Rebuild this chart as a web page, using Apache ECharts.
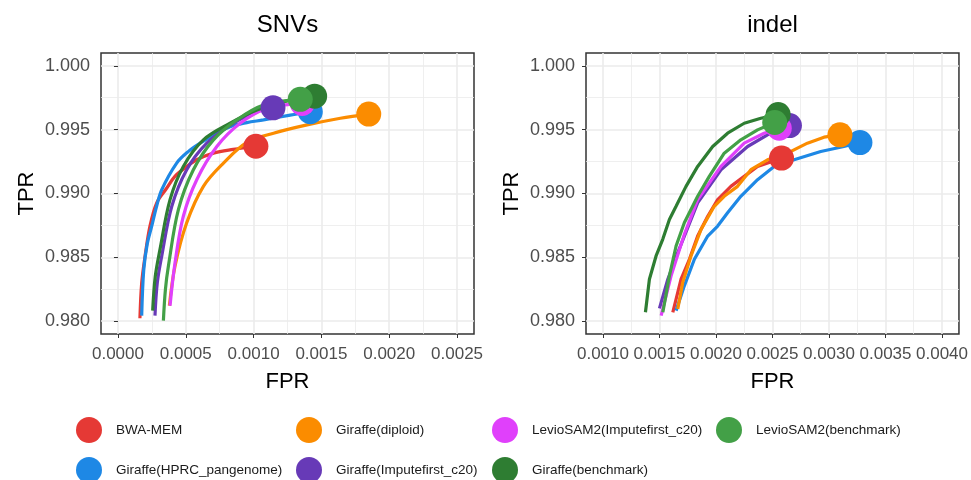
<!DOCTYPE html>
<html>
<head>
<meta charset="utf-8">
<script src="https://cdn.jsdelivr.net/npm/echarts@6/dist/echarts.min.js"></script>
<style>
html,body{margin:0;padding:0;background:#fff;}
#chart{width:971px;height:480px;}
</style>
</head>
<body>
<div id="chart"></div>
<script>
// ---- data ----
const methods = ['BWA-MEM','Giraffe(HPRC_pangenome)','Giraffe(diploid)','Giraffe(Imputefirst_c20)','LevioSAM2(Imputefirst_c20)','Giraffe(benchmark)','LevioSAM2(benchmark)'];
const colors = ['#E53935','#1E88E5','#FB8C00','#673AB7','#E040FB','#2E7D32','#43A047'];
const panelTitles = ['SNVs','indel'];

// SNVs: [FPR, TPR]
const snvBWA = [[0.000162,0.98023],[0.000175,0.98300],[0.000200,0.98511],[0.000236,0.98745],[0.000286,0.98927],[0.000355,0.99035],[0.000420,0.99134],[0.000500,0.99205],[0.000581,0.99264],[0.000704,0.99316],[0.000850,0.99345],[0.001017,0.99370]];
const snvHPRC = [[0.000175,0.98044],[0.000190,0.98400],[0.000215,0.98600],[0.000249,0.98745],[0.000285,0.98900],[0.000323,0.99030],[0.000433,0.99238],[0.000520,0.99330],[0.000606,0.99394],[0.000720,0.99465],[0.000827,0.99523],[0.000950,0.99555],[0.001073,0.99576],[0.001270,0.99614],[0.001418,0.99640]];
const snvDiploid = [[0.000379,0.98121],[0.000421,0.98433],[0.000507,0.98771],[0.000630,0.99056],[0.000778,0.99238],[0.000951,0.99400],[0.001147,0.99472],[0.001394,0.99537],[0.001640,0.99589],[0.001849,0.99622]];
const snvImpute = [[0.000273,0.98044],[0.000290,0.98300],[0.000323,0.98511],[0.000397,0.98900],[0.000507,0.99186],[0.000655,0.99394],[0.000852,0.99550],[0.001024,0.99640],[0.001143,0.99671]];
const snvLevioImpute = [[0.000384,0.98121],[0.000421,0.98459],[0.000482,0.98822],[0.000581,0.99108],[0.000729,0.99368],[0.000901,0.99550],[0.001098,0.99667],[0.001270,0.99698],[0.001359,0.99705]];
const snvBench = [[0.000256,0.98083],[0.000275,0.98350],[0.000310,0.98563],[0.000384,0.98952],[0.000482,0.99212],[0.000630,0.99420],[0.000827,0.99550],[0.001024,0.99653],[0.001270,0.99731],[0.001450,0.99762]];
const snvLevioBench = [[0.000335,0.98005],[0.000350,0.98250],[0.000372,0.98433],[0.000446,0.98875],[0.000556,0.99186],[0.000704,0.99420],[0.000877,0.99576],[0.001073,0.99692],[0.001344,0.99737]];

// indel: [FPR, TPR]
const indBWA = [[0.001618,0.98070],[0.001691,0.98329],[0.001765,0.98485],[0.001838,0.98667],[0.001927,0.98822],[0.002015,0.98952],[0.002132,0.99056],[0.002250,0.99134],[0.002368,0.99212],[0.002580,0.99277]];
const indHPRC = [[0.001647,0.98083],[0.001720,0.98277],[0.001809,0.98485],[0.001927,0.98667],[0.002015,0.98745],[0.002103,0.98849],[0.002220,0.98978],[0.002368,0.99108],[0.002515,0.99212],[0.002691,0.99264],[0.002927,0.99329],[0.003132,0.99368],[0.003274,0.99399]];
const indDiploid = [[0.001662,0.98096],[0.001706,0.98304],[0.001779,0.98511],[0.001868,0.98719],[0.001985,0.98900],[0.002073,0.98978],[0.002191,0.99056],[0.002309,0.99186],[0.002456,0.99264],[0.002633,0.99316],[0.002809,0.99394],[0.002956,0.99441],[0.003097,0.99459]];
const indImpute = [[0.001500,0.98101],[0.001574,0.98329],[0.001662,0.98537],[0.001838,0.98927],[0.002044,0.99186],[0.002280,0.99368],[0.002456,0.99459],[0.002650,0.99532]];
const indLevioImpute = [[0.001515,0.98044],[0.001603,0.98355],[0.001720,0.98680],[0.001838,0.98952],[0.002044,0.99212],[0.002250,0.99394],[0.002426,0.99472],[0.002560,0.99511]];
const indBench = [[0.001376,0.98070],[0.001411,0.98329],[0.001470,0.98511],[0.001529,0.98641],[0.001588,0.98797],[0.001647,0.98900],[0.001735,0.99056],[0.001838,0.99212],[0.001971,0.99368],[0.002103,0.99472],[0.002250,0.99550],[0.002397,0.99589],[0.002550,0.99618]];
const indLevioBench = [[0.001530,0.98070],[0.001588,0.98355],[0.001647,0.98589],[0.001720,0.98771],[0.001838,0.98978],[0.001941,0.99134],[0.002073,0.99316],[0.002220,0.99420],[0.002368,0.99498],[0.002520,0.99556]];

const snvData = [snvBWA, snvHPRC, snvDiploid, snvImpute, snvLevioImpute, snvBench, snvLevioBench];
const indelData = [indBWA, indHPRC, indDiploid, indImpute, indLevioImpute, indBench, indLevioBench];

// axis ticks
const yTicks = [0.980, 0.985, 0.990, 0.995, 1.000];
const yMinor = [0.9825, 0.9875, 0.9925, 0.9975];
const snvXTicks = [0.0000, 0.0005, 0.0010, 0.0015, 0.0020, 0.0025];
const snvXMinor = [0.00025, 0.00075, 0.00125, 0.00175, 0.00225];
const indelXTicks = [0.0010, 0.0015, 0.0020, 0.0025, 0.0030, 0.0035, 0.0040];
const indelXMinor = [0.00125, 0.00175, 0.00225, 0.00275, 0.00325, 0.00375];

// ---- layout ----
const FONT = '"Liberation Sans", Arial, Helvetica, sans-serif';
const grids = [
  {left: 101, top: 53, width: 373, height: 281},
  {left: 586, top: 53, width: 373, height: 281}
];
const xRanges = [[-0.000125, 0.002625], [0.00085, 0.00415]];
const yRange = [0.979, 1.001];
const majorColor = '#EBEBEB';

const xAxes = [], yAxes = [];
const xTickSets = [snvXTicks, indelXTicks];
const xMinorSets = [snvXMinor, indelXMinor];
for (let g = 0; g < 2; g++) {
  xAxes.push({
    type: 'value', gridIndex: g, min: xRanges[g][0], max: xRanges[g][1],
    name: 'FPR', nameLocation: 'middle', nameGap: 37,
    nameTextStyle: {fontFamily: FONT, fontSize: 22, color: '#000'},
    axisLine: {show: false},
    axisTick: {show: true, length: 4, lineStyle: {color: '#333', width: 1}, customValues: xTickSets[g]},
    axisLabel: {show: true, customValues: xTickSets[g], margin: 12, fontFamily: FONT, fontSize: 17, color: '#4D4D4D',
      formatter: v => Number(v).toFixed(4), hideOverlap: false},
    splitLine: {show: true, lineStyle: {color: majorColor, width: 1.6}}
  });
  xAxes.push({
    type: 'value', gridIndex: g, min: xRanges[g][0], max: xRanges[g][1],
    axisLine: {show: false},
    axisTick: {show: false, customValues: xMinorSets[g]},
    axisLabel: {show: false},
    splitLine: {show: true, lineStyle: {color: majorColor, width: 0.8}}
  });
  yAxes.push({
    type: 'value', gridIndex: g, min: yRange[0], max: yRange[1],
    name: 'TPR', nameLocation: 'middle', nameGap: 63, nameRotate: 90,
    nameTextStyle: {fontFamily: FONT, fontSize: 22, color: '#000'},
    axisLine: {show: false},
    axisTick: {show: true, length: 4, lineStyle: {color: '#333', width: 1}, customValues: yTicks},
    axisLabel: {show: true, customValues: yTicks, margin: 11, fontFamily: FONT, fontSize: 18, color: '#4D4D4D',
      formatter: v => Number(v).toFixed(3)},
    splitLine: {show: true, lineStyle: {color: majorColor, width: 1.6}}
  });
  yAxes.push({
    type: 'value', gridIndex: g, min: yRange[0], max: yRange[1],
    axisLine: {show: false},
    axisTick: {show: false, customValues: yMinor},
    axisLabel: {show: false},
    splitLine: {show: true, lineStyle: {color: majorColor, width: 0.8}}
  });
}

const series = [];
const panels = [snvData, indelData];
for (let g = 0; g < 2; g++) {
  panels[g].forEach((arr, i) => {
    series.push({
      type: 'line', name: methods[i], xAxisIndex: g * 2, yAxisIndex: g * 2,
      data: arr, showSymbol: false, symbol: 'none',
      smooth: g === 0 ? 0.35 : false,
      lineStyle: {color: colors[i], width: 3.2}, itemStyle: {color: colors[i]},
      z: 2, silent: true
    });
  });
}
for (let g = 0; g < 2; g++) {
  panels[g].forEach((arr, i) => {
    series.push({
      type: 'scatter', name: methods[i], xAxisIndex: g * 2, yAxisIndex: g * 2,
      data: [arr[arr.length - 1]], symbol: 'circle', symbolSize: 25,
      itemStyle: {color: colors[i], opacity: 1}, z: 3, silent: true
    });
  });
}

// legend: 4 columns x 2 rows, filled column-wise
const legendCols = [76, 296, 492, 716];
const legendRows = [417, 457];
const legends = methods.map((m, i) => ({
  data: [{name: m, icon: 'circle'}],
  left: legendCols[Math.floor(i / 2)], top: legendRows[i % 2],
  orient: 'horizontal', itemWidth: 44, itemHeight: 26, padding: 0,
  selectedMode: false,
  textStyle: {fontFamily: FONT, fontSize: 13.5, color: '#1A1A1A'}
}));

const titles = panelTitles.map((t, g) => ({
  text: t, left: grids[g].left + grids[g].width / 2, top: 13, textAlign: 'center', padding: 0,
  textStyle: {fontFamily: FONT, fontSize: 24, fontWeight: 'normal', color: '#000'}
}));

const chart = echarts.init(document.getElementById('chart'), null, {renderer: 'canvas'});
chart.setOption({
  animation: false,
  backgroundColor: '#fff',
  title: titles,
  legend: legends,
  grid: grids.map(g => Object.assign({show: true, borderColor: '#333', borderWidth: 1.5, backgroundColor: 'transparent', containLabel: false}, g)),
  xAxis: xAxes,
  yAxis: yAxes,
  series: series
});
</script>
</body>
</html>
